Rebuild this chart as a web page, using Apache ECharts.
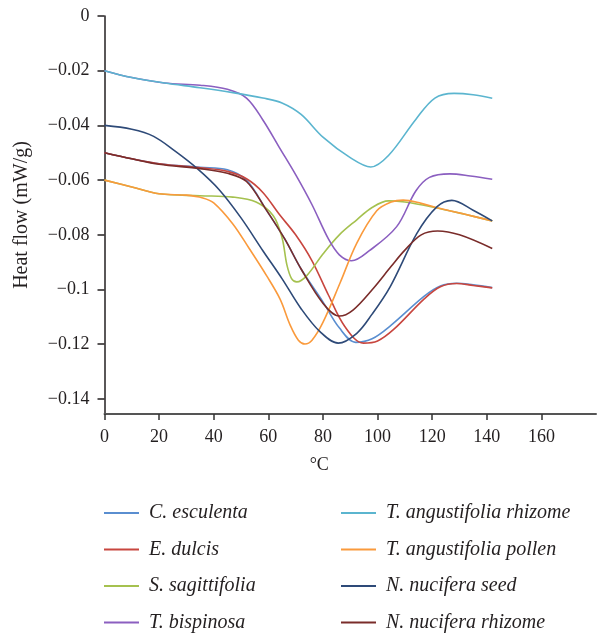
<!DOCTYPE html>
<html>
<head>
<meta charset="utf-8">
<script src="https://cdn.jsdelivr.net/npm/echarts@6/dist/echarts.min.js"></script>
<style>
html,body{margin:0;padding:0;background:#fff;}
#chart{width:599px;height:635px;}
</style>
</head>
<body>
<div id="chart"></div>
<script>
// ---- data ----
var seriesNames = [
  'C. esculenta', 'E. dulcis', 'S. sagittifolia', 'T. bispinosa',
  'T. angustifolia rhizome', 'T. angustifolia pollen', 'N. nucifera seed', 'N. nucifera rhizome'
];
var xTicks = [0, 20, 40, 60, 80, 100, 120, 140, 160];
var yTicks = [0, -0.02, -0.04, -0.06, -0.08, -0.1, -0.12, -0.14];

var cEsculenta = [[0,-0.0500],[10,-0.0522],[20,-0.0540],[35,-0.0553],[45,-0.0562],[52,-0.0600],[59,-0.0705],[66,-0.0815],[72,-0.0925],[80,-0.1045],[86,-0.1140],[92,-0.1193],[98,-0.1180],[105,-0.1130],[117,-0.1025],[123,-0.0987],[129,-0.0977],[135,-0.0983],[142,-0.0993]];
var eDulcis = [[0,-0.0500],[10,-0.0522],[20,-0.0540],[35,-0.0555],[45,-0.0568],[52,-0.0595],[58,-0.0645],[64,-0.0725],[70,-0.0800],[76,-0.0895],[82,-0.1020],[88,-0.1135],[94.8,-0.1196],[100,-0.1188],[106,-0.1145],[117,-0.1035],[123,-0.0990],[129,-0.0978],[135,-0.0985],[142,-0.0994]];
var sSagittifolia = [[0,-0.0600],[10,-0.0625],[20,-0.0650],[35,-0.0657],[47,-0.0662],[55.5,-0.0680],[61.8,-0.0730],[65,-0.0810],[66.8,-0.0910],[68.5,-0.0960],[70.4,-0.0972],[74,-0.0950],[80,-0.0870],[86,-0.0800],[92.4,-0.0745],[98,-0.0700],[104,-0.0676],[110,-0.0680],[120,-0.0698],[132,-0.0725],[142,-0.0749]];
var tBispinosa = [[0,-0.0200],[10,-0.0225],[22,-0.0245],[35,-0.0253],[45,-0.0268],[52,-0.0300],[58,-0.0380],[64,-0.0480],[70,-0.0580],[76,-0.0690],[82,-0.0815],[86,-0.0873],[90.5,-0.0895],[97,-0.0858],[107,-0.0770],[114,-0.0640],[119,-0.0590],[126.5,-0.0577],[134,-0.0585],[142,-0.0597]];
var tAngRhizome = [[0,-0.0200],[10,-0.0225],[22,-0.0245],[35,-0.0262],[47,-0.0280],[58,-0.0300],[65,-0.0318],[72,-0.0360],[80,-0.0443],[90,-0.0518],[97.5,-0.0552],[104,-0.0510],[114,-0.0378],[121,-0.0300],[128,-0.0283],[135,-0.0288],[142,-0.0301]];
var tAngPollen = [[0,-0.0600],[10,-0.0625],[20,-0.0650],[30,-0.0655],[36,-0.0665],[40,-0.0683],[47,-0.0760],[53,-0.0850],[59.4,-0.0950],[64.3,-0.1035],[68,-0.1130],[71,-0.1185],[73.4,-0.1199],[76,-0.1185],[80,-0.1120],[86.3,-0.0975],[92.4,-0.0830],[99.7,-0.0712],[105,-0.0680],[109.4,-0.0673],[116,-0.0685],[123,-0.0704],[132,-0.0725],[142,-0.0749]];
var nNuciferaSeed = [[0,-0.0400],[10,-0.0414],[18,-0.0440],[26,-0.0495],[34,-0.0558],[42,-0.0635],[50,-0.0738],[58,-0.0858],[65,-0.0960],[72,-0.1070],[79,-0.1155],[85.6,-0.1196],[92.4,-0.1160],[98,-0.1090],[104.6,-0.0990],[114.4,-0.0795],[121.7,-0.0698],[127.2,-0.0674],[135,-0.0710],[142,-0.0749]];
var nNuciferaRhizome = [[0,-0.0500],[10,-0.0522],[20,-0.0542],[35,-0.0558],[45,-0.0575],[52,-0.0605],[59,-0.0705],[66,-0.0815],[72,-0.0925],[80,-0.1050],[86,-0.1097],[91,-0.1075],[98.5,-0.0995],[105,-0.0915],[110,-0.0856],[116,-0.0800],[122,-0.0786],[130,-0.0800],[142,-0.0850]];

var seriesData = [cEsculenta, eDulcis, sSagittifolia, tBispinosa, tAngRhizome, tAngPollen, nNuciferaSeed, nNuciferaRhizome];
var colors = ['#5A8ED0', '#C8463F', '#A5C14F', '#8B5FC0', '#5BB5CF', '#FA9A3C', '#2E4A78', '#7A2C2A'];

var serif = '"Liberation Serif", "DejaVu Serif", serif';
var textColor = '#231f20';

var chart = echarts.init(document.getElementById('chart'), null, {renderer: 'canvas'});

var legendBase = {
  orient: 'vertical',
  top: 503,
  height: 132,
  padding: 0,
  itemWidth: 35,
  itemHeight: 2,
  icon: 'rect',
  itemGap: 16.5,
  selectedMode: false,
  textStyle: {fontFamily: serif, fontStyle: 'italic', fontSize: 20, lineHeight: 20, color: textColor, padding: [0, 0, 0, 5]}
};

chart.setOption({
  animation: false,
  color: colors,
  grid: {left: 104.5, right: 3, top: 16, bottom: 221, containLabel: false},
  legend: [
    Object.assign({}, legendBase, {left: 104, data: seriesNames.slice(0, 4)}),
    Object.assign({}, legendBase, {left: 341, data: seriesNames.slice(4, 8)})
  ],
  xAxis: {
    type: 'value', min: 0, max: 180,
    name: '°C', nameLocation: 'middle', nameGap: 42,
    nameTextStyle: {fontFamily: serif, fontSize: 18, color: textColor, padding: [0, 62, 0, 0]},
    axisLine: {show: true, onZero: false, lineStyle: {color: '#555', width: 2}},
    axisTick: {show: true, length: 6, customValues: xTicks, lineStyle: {color: '#333', width: 1.5}},
    axisLabel: {customValues: xTicks, fontFamily: serif, fontSize: 18, color: textColor, margin: 14},
    splitLine: {show: false}
  },
  yAxis: {
    type: 'value', min: -0.1455, max: 0,
    name: 'Heat flow (mW/g)', nameLocation: 'middle', nameGap: 73, nameRotate: 90,
    nameTextStyle: {fontFamily: serif, fontSize: 20, color: textColor},
    axisLine: {show: true, onZero: false, lineStyle: {color: '#231f20', width: 1.5}},
    axisTick: {show: true, length: 7, customValues: yTicks, lineStyle: {color: '#231f20', width: 1.5}},
    axisLabel: {
      customValues: yTicks, fontFamily: serif, fontSize: 18, color: textColor, margin: 15,
      formatter: function (v) { return v === 0 ? '0' : '\u2212' + String(Math.abs(v)); }
    },
    splitLine: {show: false}
  },
  series: seriesNames.map(function (n, i) {
    return {
      name: n, type: 'line', data: seriesData[i], symbol: 'none', smooth: 0.35,
      lineStyle: {width: 1.6, color: colors[i]}, itemStyle: {color: colors[i]}
    };
  })
});
</script>
</body>
</html>
